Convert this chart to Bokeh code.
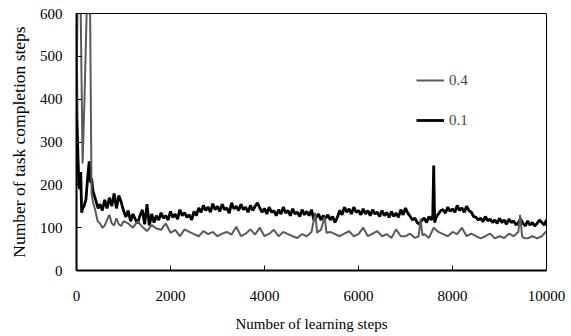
from bokeh.plotting import figure
from bokeh.models import Legend, LegendItem, Range1d, FixedTicker
from bokeh.embed import file_html
from bokeh.resources import INLINE

# Series 0.1 (black)
x_01 = [0, 10, 30, 50, 70, 90, 110, 130, 160, 200, 240, 270, 300, 320, 350, 380, 420, 460,
        500, 550, 600, 650, 700, 750, 800, 850, 900, 950, 1000, 1050, 1100, 1150, 1200, 1250,
        1300, 1350, 1400, 1450, 1500, 1550, 1600, 1650, 1700, 1750, 1800, 1850, 1900, 1950,
        2000, 2050, 2100, 2150, 2200, 2250, 2300, 2350, 2400, 2450, 2500, 2550, 2600, 2650,
        2700, 2750, 2800, 2850, 2900, 2950, 3000, 3050, 3100, 3150, 3200, 3250, 3300, 3350,
        3400, 3450, 3500, 3550, 3600, 3650, 3700, 3750, 3800, 3850, 3900, 3950, 4000, 4050,
        4100, 4150, 4200, 4250, 4300, 4350, 4400, 4450, 4500, 4550, 4600, 4650, 4700, 4750,
        4800, 4850, 4900, 4950, 5000, 5050, 5100, 5150, 5200, 5250, 5300, 5350, 5400, 5450,
        5500, 5550, 5600, 5650, 5700, 5750, 5800, 5850, 5900, 5950, 6000, 6050, 6100, 6150,
        6200, 6250, 6300, 6350, 6400, 6450, 6500, 6550, 6600, 6650, 6700, 6750, 6800, 6850,
        6900, 6950, 7000, 7050, 7100, 7150, 7200, 7250, 7300, 7350, 7400, 7450, 7500, 7550,
        7580, 7600, 7620, 7650, 7700, 7750, 7800, 7850, 7900, 7950, 8000, 8050, 8100, 8150,
        8200, 8250, 8300, 8350, 8400, 8450, 8500, 8550, 8600, 8650, 8700, 8750, 8800, 8850,
        8900, 8950, 9000, 9050, 9100, 9150, 9200, 9250, 9300, 9350, 9400, 9450, 9500, 9550,
        9600, 9650, 9700, 9750, 9800, 9850, 9900, 9950, 10000]
y_01 = [500, 350, 270, 200, 190, 230, 135, 145, 150, 165, 220, 255, 205, 215, 185, 175, 160, 145,
        155, 140, 165, 145, 170, 150, 180, 145, 175, 160, 140, 125, 140, 115, 132, 120,
        110, 128, 142, 108, 155, 105, 132, 112, 128, 118, 135, 122, 128, 118,
        138, 124, 132, 120, 142, 128, 135, 124, 130, 118, 138, 128, 146, 136,
        152, 140, 148, 136, 156, 142, 150, 138, 155, 142, 146, 134, 158, 144,
        150, 140, 155, 142, 148, 136, 152, 140, 150, 158, 146, 136, 145, 132,
        148, 136, 140, 128, 142, 132, 148, 134, 140, 128, 144, 132, 136, 126,
        142, 130, 138, 128, 142, 118, 124, 132, 118, 128, 122, 130, 118, 126,
        112, 124, 140, 130, 148, 136, 144, 132, 148, 136, 140, 130, 144, 132,
        140, 128, 142, 132, 136, 126, 140, 128, 136, 124, 138, 126, 134, 124,
        142, 130, 146, 134, 126, 118, 122, 112, 108, 118, 122, 112, 126, 118,
        128, 245, 112, 124, 132, 140, 142, 134, 148, 138, 144, 136, 152, 140,
        146, 136, 150, 140, 136, 126, 124, 118, 122, 114, 126, 116, 120, 112,
        118, 110, 122, 112, 118, 108, 120, 112, 116, 106, 112, 120, 110, 104,
        116, 106, 112, 104, 110, 118, 112, 106, 118]

# Series 0.4 (grey)
x_04 = [0, 20, 60, 90, 130, 170, 220, 260, 290, 320, 350, 400, 450, 500, 550, 600, 650, 700,
        750, 800, 850, 900, 950, 1000, 1100, 1200, 1300, 1400, 1500, 1600, 1700, 1800, 1900,
        2000, 2100, 2200, 2300, 2400, 2500, 2600, 2700, 2800, 2900, 3000, 3100, 3200, 3300,
        3400, 3500, 3600, 3700, 3800, 3900, 4000, 4100, 4200, 4300, 4400, 4500, 4600, 4700,
        4800, 4900, 5000, 5080, 5120, 5160, 5200, 5280, 5320, 5400, 5500, 5600, 5700, 5800,
        5900, 6000, 6100, 6200, 6300, 6400, 6500, 6600, 6700, 6800, 6900, 7000, 7100, 7200,
        7280, 7320, 7360, 7400, 7500, 7600, 7700, 7800, 7900, 8000, 8100, 8200, 8300, 8400,
        8500, 8600, 8700, 8800, 8900, 9000, 9100, 9200, 9300, 9400, 9440, 9480, 9520, 9600,
        9700, 9800, 9900, 10000]
y_04 = [350, 620, 650, 600, 250, 400, 620, 650, 600, 180, 160, 140, 115, 110, 100, 105, 118, 130,
        110, 105, 122, 108, 104, 115, 110, 100, 115, 102, 92, 106, 98, 95, 110,
        88, 95, 80, 96, 90, 85, 80, 92, 85, 90, 80, 86, 90, 84,
        102, 80, 86, 96, 84, 100, 80, 86, 95, 80, 90, 85, 80, 76,
        85, 80, 90, 135, 88, 92, 95, 125, 88, 90, 85, 80, 86, 92,
        80, 85, 100, 80, 86, 92, 80, 85, 76, 96, 80, 80, 86, 76,
        80, 120, 82, 85, 76, 100, 90, 85, 80, 90, 85, 100, 80, 86,
        80, 75, 80, 86, 75, 80, 76, 86, 80, 90, 130, 80, 76, 75,
        80, 75, 80, 92]

x_ticks = [0, 2000, 4000, 6000, 8000, 10000]
y_ticks = [0, 100, 200, 300, 400, 500, 600]

FONT = "Liberation Serif"

p = figure(width=571, height=336, output_backend="svg", toolbar_location=None,
           x_range=Range1d(0, 10000), y_range=Range1d(0, 600),
           min_border_left=76, min_border_right=25, min_border_top=13, min_border_bottom=66)

r1 = p.line(x_01, y_01, line_color="black", line_width=2.8)
r4 = p.line(x_04, y_04, line_color="#5a5a5a", line_width=2)

p.xgrid.visible = False
p.ygrid.visible = False
p.outline_line_color = "black"
p.outline_line_width = 1

for ax in (p.xaxis[0], p.yaxis[0]):
    ax.major_tick_in = 5
    ax.major_tick_out = 0
    ax.minor_tick_in = 0
    ax.minor_tick_out = 0
    ax.axis_line_width = 2
    ax.axis_line_color = "black"
    ax.major_tick_line_color = "black"
    ax.major_label_text_font = FONT
    ax.major_label_text_font_size = "15px"
    ax.major_label_text_color = "black"
    ax.axis_label_text_font = FONT
    ax.axis_label_text_font_style = "normal"
    ax.axis_label_text_color = "black"

p.xaxis.axis_label_text_font_size = "15px"
p.yaxis.axis_label_text_font_size = "17.5px"
p.xaxis.ticker = FixedTicker(ticks=x_ticks)
p.yaxis.ticker = FixedTicker(ticks=y_ticks)
p.xaxis.major_label_standoff = 20
p.yaxis.major_label_standoff = 14
p.xaxis.axis_label_standoff = 12
p.yaxis.axis_label_standoff = 8
p.xaxis.axis_label = "Number of learning steps"
p.yaxis.axis_label = "Number of task completion steps"

legend = Legend(items=[LegendItem(label="0.4", renderers=[r4]),
                       LegendItem(label="0.1", renderers=[r1])],
                location=(340, 140), orientation="vertical",
                background_fill_alpha=0, border_line_alpha=0,
                label_text_font=FONT, label_text_font_size="15px",
                glyph_width=28, spacing=20, padding=0, margin=0, label_standoff=5)
p.add_layout(legend)

open("out.html", "w").write(file_html(p, INLINE))
